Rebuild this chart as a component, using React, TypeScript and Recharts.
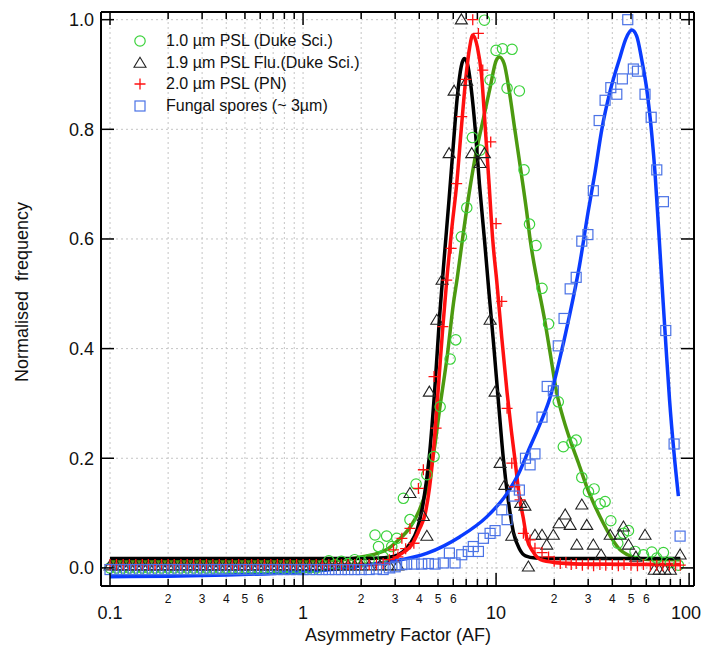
import React from 'react';
import { ComposedChart, Line, Scatter, XAxis, YAxis, CartesianGrid } from 'recharts';

// bin centres of the flat part of the histograms (shared by all four samples)
const lowAF = [
  0.1, 0.108, 0.117, 0.126, 0.136, 0.147, 0.158, 0.171, 0.185, 0.2,
  0.215, 0.233, 0.251, 0.271, 0.293, 0.316, 0.341, 0.368, 0.398, 0.43,
  0.464, 0.501, 0.541, 0.584, 0.631, 0.681, 0.736, 0.794, 0.858, 0.926,
  1.0, 1.08, 1.17, 1.26, 1.36, 1.47, 1.58, 1.71, 1.85, 2.0,
];

// 1.0 um PSL (Duke Sci.)
const greenLow = [
  0, 0, 0, 0, 0, 0, 0, 0, 0, 0,
  0, 0, 0, 0, 0, 0, 0, 0, 0, 0,
  0, 0, 0, 0, 0, 0, 0, 0, 0, 0,
  0, 0, 0, 0.004, 0.013, 0.006, 0.012, 0.008, 0.015, 0.012,
];
const greenAF = [
  2.2, 2.36, 2.46, 2.6, 2.71, 2.88, 3.06, 3.31, 3.58, 3.85,
  4.38, 4.77, 5.13, 5.78, 6.18, 6.61, 7.05, 7.54, 8.26, 8.7,
  9.31, 10.0, 10.8, 11.4, 12.1, 13.2, 13.96, 14.9, 16.1, 17.3,
  18.7, 21.0, 22.3, 24.7, 26.0, 27.8, 30.1, 32.2, 34.6, 36.7,
  39.3, 42.7, 45.7, 48.5, 52.5, 58.0, 64.1, 68.0, 73.6, 80.0, 88.0,
];
const greenFreq = [
  0.015, 0.06, 0.039, 0.02, 0.058, 0.039, 0.054, 0.127, 0.088, 0.153,
  0.17, 0.203, 0.294, 0.381, 0.416, 0.604, 0.657, 0.785, 0.762, 0.999,
  0.89, 0.944, 0.947, 0.875, 0.946, 0.87, 0.726, 0.627, 0.588, 0.51,
  0.445, 0.303, 0.221, 0.228, 0.233, 0.165, 0.139, 0.144, 0.117, 0.121,
  0.086, 0.045, 0.063, 0.068, 0.03, 0.024, 0.029, 0.018, 0.028, 0.01, 0.005,
];
const greenFitAF = [
  0.1, 0.5, 1.0, 1.5, 2.0, 2.4, 2.7, 3.1, 3.6, 4.0,
  4.4, 4.8, 5.1, 5.6, 6.0, 6.3, 6.7, 7.3, 7.9, 8.6,
  9.3, 10.0, 10.4, 11.0, 11.7, 12.5, 13.5, 14.4, 15.0, 16.4,
  17.9, 19.0, 20.6, 22.4, 24.2, 26.8, 29.5, 32.5, 36.0, 40.0,
  43.9, 48.0, 53.5, 65.0, 90.0,
];
const greenFitFreq = [
  0.012, 0.012, 0.012, 0.014, 0.02, 0.026, 0.033, 0.05, 0.075, 0.105,
  0.148, 0.22, 0.29, 0.39, 0.48, 0.53, 0.6, 0.69, 0.76, 0.82,
  0.875, 0.925, 0.932, 0.92, 0.87, 0.8, 0.72, 0.65, 0.6, 0.52,
  0.45, 0.395, 0.32, 0.27, 0.233, 0.19, 0.148, 0.113, 0.081, 0.052,
  0.033, 0.024, 0.018, 0.015, 0.015,
];

// 1.9 um PSL Flu. (Duke Sci.)
const blackLow = [
  0.004, 0.004, 0.004, 0.004, 0.004, 0.004, 0.004, 0.004, 0.004, 0.004,
  0.004, 0.004, 0.004, 0.004, 0.004, 0.004, 0.004, 0.004, 0.004, 0.004,
  0.004, 0.004, 0.004, 0.004, 0.004, 0.004, 0.004, 0.004, 0.004, 0.004,
  0.004, 0.004, 0.004, 0.004, 0.004, 0.004, 0.004, 0.004, 0.004, 0.004,
];
const blackAF = [
  2.2, 2.5, 2.8, 3.1, 3.58, 4.2, 4.38, 4.51, 4.93, 5.25,
  5.71, 6.06, 6.61, 7.05, 7.48, 8.26, 8.7, 9.31, 9.88, 10.49,
  11.1, 12.06, 13.4, 14.1, 14.7, 15.9, 17.3, 18.3, 19.8, 21.2,
  22.8, 24.2, 26.2, 27.8, 29.5, 31.9, 35.0, 39.0, 43.9, 45.7,
  48.5, 53.0, 59.1, 66.0, 70.0, 75.0, 80.0, 89.8,
];
const blackFreq = [
  0.004, 0.004, 0.004, 0.004, 0.136, 0.094, 0.058, 0.321, 0.452, 0.525,
  0.756, 0.87, 1.0, 0.888, 0.756, 0.738, 0.756, 0.452, 0.321, 0.191,
  0.151, 0.058, 0.118, 0.113, 0.002, 0.06, 0.06, 0.042, 0.06, 0.081,
  0.097, 0.078, 0.042, 0.115, 0.078, 0.042, 0.024, 0.06, 0.06, 0.075,
  0.042, 0.02, 0.06, -0.004, -0.004, -0.004, -0.004, 0.024,
];
const blackFitAF = [
  0.1, 1.0, 2.0, 2.5, 3.0, 3.3, 3.6, 3.9, 4.2, 4.5,
  4.8, 5.1, 5.4, 5.7, 6.0, 6.3, 6.6, 6.85, 7.1, 7.4,
  7.8, 8.2, 8.7, 9.2, 9.7, 10.3, 10.9, 11.6, 12.3, 13.2,
  14.2, 16.0, 20.0, 50.0, 90.0,
];
const blackFitFreq = [
  0.017, 0.017, 0.017, 0.018, 0.022, 0.03, 0.045, 0.07, 0.12, 0.2,
  0.32, 0.46, 0.57, 0.67, 0.77, 0.86, 0.915, 0.929, 0.92, 0.88,
  0.8, 0.7, 0.6, 0.5, 0.41, 0.3, 0.2, 0.12, 0.065, 0.035,
  0.022, 0.018, 0.017, 0.017, 0.017,
];

// 2.0 um PSL (PN)
const redLow = [
  0.006, 0.006, 0.006, 0.006, 0.006, 0.006, 0.006, 0.006, 0.006, 0.006,
  0.006, 0.006, 0.006, 0.006, 0.006, 0.006, 0.006, 0.006, 0.006, 0.006,
  0.006, 0.006, 0.006, 0.006, 0.006, 0.006, 0.006, 0.006, 0.006, 0.006,
  0.006, 0.006, 0.006, 0.006, 0.006, 0.006, 0.006, 0.006, 0.006, 0.006,
];
const redAF = [
  2.2, 2.4, 2.6, 2.8, 2.94, 3.1, 3.25, 3.4, 3.58, 3.75,
  3.96, 4.2, 4.77, 4.89, 5.3, 5.55, 5.85, 6.25, 6.64, 6.97,
  7.57, 8.1, 8.53, 9.38, 10.0, 10.7, 11.4, 12.06, 12.5, 13.3,
  13.85, 15.0, 15.9, 17.3, 18.7, 20.0, 21.5, 23.0, 24.5, 26.0,
  28.0, 30.0, 32.0, 34.5, 37.0, 40.0, 43.0, 46.0, 50.0, 54.0,
  58.0, 63.0, 68.0, 73.0, 79.0, 85.0, 90.0,
];
const redFreq = [
  0.006, 0.006, 0.008, 0.015, 0.033, 0.02, 0.054, 0.035, 0.072, 0.045,
  0.145, 0.179, 0.349, 0.255, 0.44, 0.525, 0.583, 0.701, 0.823, 0.891,
  1.0, 0.975, 0.908, 0.777, 0.628, 0.486, 0.291, 0.191, 0.148, 0.124,
  0.063, 0.051, 0.036, 0.028, 0.02, 0.012, 0.008, 0.01, 0.006, 0.008,
  0.005, 0.007, 0.004, 0.006, 0.005, 0.006, 0.004, 0.006, 0.005, 0.004,
  0.006, 0.004, 0.005, 0.004, 0.005, 0.004, 0.005,
];
const redFitAF = [
  0.1, 1.0, 2.0, 2.7, 3.2, 3.7, 4.0, 4.3, 4.7, 5.0,
  5.3, 5.6, 5.9, 6.25, 6.6, 7.0, 7.3, 7.57, 8.0, 8.4,
  8.8, 9.2, 9.6, 10.1, 10.7, 11.4, 12.0, 12.5, 13.2, 13.85,
  14.4, 15.5, 17.0, 20.0, 30.0, 90.0,
];
const redFitFreq = [
  0.006, 0.006, 0.006, 0.01, 0.025, 0.045, 0.07, 0.1, 0.2, 0.32,
  0.44, 0.54, 0.62, 0.7, 0.8, 0.9, 0.95, 0.972, 0.95, 0.9,
  0.8, 0.7, 0.6, 0.52, 0.42, 0.32, 0.25, 0.2, 0.13, 0.09,
  0.055, 0.03, 0.015, 0.01, 0.007, 0.006,
];

// Fungal spores (~3 um)
const blueLow = [
  -0.003, -0.003, -0.003, -0.003, -0.003, -0.003, -0.003, -0.003, -0.003, -0.003,
  -0.003, -0.003, -0.003, -0.003, -0.003, -0.003, -0.003, -0.003, -0.003, -0.003,
  -0.003, -0.003, -0.003, -0.003, -0.003, -0.003, -0.003, -0.003, -0.003, -0.003,
  -0.003, -0.003, -0.003, -0.003, -0.003, -0.003, -0.003, -0.003, -0.003, -0.003,
];
const blueAF = [
  2.2, 2.4, 2.6, 2.8, 3.0, 3.25, 3.44, 3.76, 4.12, 4.46,
  4.83, 5.33, 5.73, 6.13, 6.64, 7.18, 7.62, 8.1, 8.6, 9.31,
  9.88, 10.7, 11.4, 12.4, 13.2, 14.2, 15.0, 15.9, 17.3, 18.4,
  19.8, 21.0, 22.5, 24.2, 26.0, 27.8, 29.9, 31.9, 34.2, 36.7,
  39.3, 42.2, 45.1, 48.1, 51.4, 54.0, 59.1, 63.6, 68.0, 73.6,
  75.7, 83.6, 89.8,
];
const blueFreq = [
  -0.003, -0.002, -0.003, 0.0, 0.002, 0.006, 0.007, 0.007, 0.007, 0.008,
  0.007, 0.009, 0.027, 0.009, 0.024, 0.03, 0.039, 0.03, 0.054, 0.063,
  0.068, 0.106, 0.088, 0.131, 0.142, 0.2, 0.188, 0.208, 0.275, 0.331,
  0.323, 0.405, 0.455, 0.509, 0.53, 0.596, 0.608, 0.688, 0.816, 0.853,
  0.876, 0.864, 0.892, 1.0, 0.91, 0.906, 0.864, 0.822, 0.726, 0.668,
  0.433, 0.226, 0.058,
];
const blueFitAF = [
  0.1, 0.2, 0.4, 0.7, 1.0, 1.5, 2.0, 2.5, 3.0, 4.4,
  6.5, 9.0, 11.4, 13.0, 15.0, 17.0, 19.0, 21.0, 24.0, 27.0,
  30.0, 32.5, 35.3, 39.0, 43.9, 47.0, 50.5, 53.5, 56.9, 60.5,
  64.1, 66.6, 70.0, 73.2, 76.0, 79.2, 83.5, 88.0,
];
const blueFitFreq = [
  -0.016, -0.015, -0.013, -0.01, -0.007, -0.002, 0.004, 0.009, 0.013, 0.027,
  0.057, 0.094, 0.136, 0.17, 0.221, 0.265, 0.31, 0.37, 0.46, 0.55,
  0.65, 0.72, 0.8, 0.87, 0.932, 0.965, 0.981, 0.97, 0.926, 0.87,
  0.79, 0.72, 0.6, 0.49, 0.4, 0.306, 0.21, 0.131,
];

const xTicks = [
  0.1, 0.2, 0.3, 0.4, 0.5, 0.6, 0.7, 0.8, 0.9,
  1, 2, 3, 4, 5, 6, 7, 8, 9,
  10, 20, 30, 40, 50, 60, 70, 80, 90, 100,
];
const xMajor = [0.1, 1, 10, 100];
const yTicks = [0, 0.2, 0.4, 0.6, 0.8, 1.0];

const legendItems = [
  { name: '1.0 µm PSL (Duke Sci.)', kind: 'circle' },
  { name: '1.9 µm PSL Flu.(Duke Sci.)', kind: 'triangle' },
  { name: '2.0 µm PSL (PN)', kind: 'plus' },
  { name: 'Fungal spores (~ 3µm)', kind: 'square' },
];

const pts = (xs: number[], ys: number[]) => xs.map((x, i) => ({ x, y: ys[i] }));

const greenPts = [...pts(lowAF, greenLow), ...pts(greenAF, greenFreq)];
const blackPts = [...pts(lowAF, blackLow), ...pts(blackAF, blackFreq)];
const redPts = [...pts(lowAF, redLow), ...pts(redAF, redFreq)];
const bluePts = [...pts(lowAF, blueLow), ...pts(blueAF, blueFreq)];

const FONT = "'Liberation Sans', Arial, Helvetica, sans-serif";
const C_GREEN_PT = '#3ad23a';
const C_GREEN_LN = '#4c9a10';
const C_RED = '#ff1010';
const C_BLUE_PT = '#4a72e6';
const C_BLUE_LN = '#0a3cff';

const Marker = ({ kind, cx, cy }: { kind: string; cx: number; cy: number }) => {
  if (kind === 'circle')
    return <circle cx={cx} cy={cy} r={5.2} fill="none" stroke={C_GREEN_PT} strokeWidth={1.2} />;
  if (kind === 'triangle')
    return (
      <polygon
        points={`${cx},${cy - 5.8} ${cx - 6},${cy + 4.2} ${cx + 6},${cy + 4.2}`}
        fill="none"
        stroke="#222"
        strokeWidth={1.1}
      />
    );
  if (kind === 'plus')
    return (
      <path d={`M${cx - 5.5},${cy}H${cx + 5.5}M${cx},${cy - 5.5}V${cy + 5.5}`} stroke={C_RED} strokeWidth={1.3} />
    );
  return <rect x={cx - 5} y={cy - 5} width={10} height={10} fill="none" stroke={C_BLUE_PT} strokeWidth={1.2} />;
};

const decadeDigit = (v: number) => Math.round(v / Math.pow(10, Math.floor(Math.log10(v) + 1e-9)));

const BottomTick = (props: any) => {
  const { x, y, payload } = props;
  const v = payload.value;
  const major = xMajor.includes(v);
  const d = decadeDigit(v);
  // the last decade label sits against the right edge of the figure
  const edge = v === 100;
  return (
    <g>
      <line x1={x} x2={x} y1={y} y2={y - (major ? 13 : 7)} stroke="#000" strokeWidth={1.5} />
      {major ? (
        <text x={edge ? x + 12 : x} y={y + 33} textAnchor={edge ? 'end' : 'middle'} fontSize={18} fontFamily={FONT} fill="#111">
          {String(v)}
        </text>
      ) : d <= 6 ? (
        <text x={x} y={y + 17} textAnchor="middle" fontSize={12} fontFamily={FONT} fill="#111">
          {d}
        </text>
      ) : null}
    </g>
  );
};

const TopTick = (props: any) => {
  const { x, y, payload } = props;
  const major = xMajor.includes(payload.value);
  return <line x1={x} x2={x} y1={y} y2={y + (major ? 13 : 7)} stroke="#000" strokeWidth={1.5} />;
};

const LeftTick = (props: any) => {
  const { x, y, payload } = props;
  return (
    <g>
      <line x1={x} x2={x + 13} y1={y} y2={y} stroke="#000" strokeWidth={1.5} />
      <text x={x - 7} y={y} dy="0.35em" textAnchor="end" fontSize={18} fontFamily={FONT} fill="#111">
        {payload.value.toFixed(1)}
      </text>
    </g>
  );
};

const RightTick = (props: any) => {
  const { x, y } = props;
  return <line x1={x} x2={x - 13} y1={y} y2={y} stroke="#000" strokeWidth={1.5} />;
};

const X_DOMAIN = [0.0898, 106];
const Y_DOMAIN = [-0.033, 1.014];

export default function App() {
  return (
    <div style={{ position: 'absolute', left: 0, top: 0, width: 702, height: 647, background: '#fff', fontFamily: FONT }}>
      <ComposedChart width={702} height={647} margin={{ top: 11, right: 7, bottom: 11, left: 21 }}>
        <CartesianGrid
          xAxisId="b"
          yAxisId="l"
          stroke="#c4c4c4"
          strokeDasharray="2 3"
          verticalValues={xTicks}
          horizontalValues={yTicks}
        />
        <XAxis
          xAxisId="b"
          type="number"
          dataKey="x"
          scale="log"
          domain={X_DOMAIN}
          allowDataOverflow
          ticks={xTicks}
          interval={0}
          tick={<BottomTick />}
          tickLine={false}
          tickSize={0}
          tickMargin={0}
          height={50}
          axisLine={{ stroke: '#000', strokeWidth: 2 }}
        />
        <XAxis
          xAxisId="t"
          orientation="top"
          type="number"
          dataKey="x"
          scale="log"
          domain={X_DOMAIN}
          allowDataOverflow
          ticks={xTicks}
          interval={0}
          tick={<TopTick />}
          tickLine={false}
          tickSize={0}
          tickMargin={0}
          height={1}
          axisLine={{ stroke: '#000', strokeWidth: 2 }}
        />
        <YAxis
          yAxisId="l"
          type="number"
          dataKey="y"
          domain={Y_DOMAIN}
          allowDataOverflow
          ticks={yTicks}
          interval={0}
          tick={<LeftTick />}
          tickLine={false}
          tickSize={0}
          tickMargin={0}
          width={80}
          axisLine={{ stroke: '#000', strokeWidth: 2 }}
        />
        <YAxis
          yAxisId="r"
          orientation="right"
          type="number"
          dataKey="y"
          domain={Y_DOMAIN}
          allowDataOverflow
          ticks={yTicks}
          interval={0}
          tick={<RightTick />}
          tickLine={false}
          tickSize={0}
          tickMargin={0}
          width={1}
          axisLine={{ stroke: '#000', strokeWidth: 2 }}
        />

        <Scatter xAxisId="b" yAxisId="l" data={greenPts} dataKey="y" isAnimationActive={false}
          shape={(p: any) => <Marker kind="circle" cx={p.cx} cy={p.cy} />} />
        <Scatter xAxisId="b" yAxisId="l" data={blackPts} dataKey="y" isAnimationActive={false}
          shape={(p: any) => <Marker kind="triangle" cx={p.cx} cy={p.cy} />} />
        <Scatter xAxisId="b" yAxisId="l" data={redPts} dataKey="y" isAnimationActive={false}
          shape={(p: any) => <Marker kind="plus" cx={p.cx} cy={p.cy} />} />
        <Scatter xAxisId="b" yAxisId="l" data={bluePts} dataKey="y" isAnimationActive={false}
          shape={(p: any) => <Marker kind="square" cx={p.cx} cy={p.cy} />} />

        <Line xAxisId="b" yAxisId="l" data={pts(greenFitAF, greenFitFreq)} dataKey="y" type="monotone"
          stroke={C_GREEN_LN} strokeWidth={3.5} dot={false} isAnimationActive={false} />
        <Line xAxisId="b" yAxisId="l" data={pts(blackFitAF, blackFitFreq)} dataKey="y" type="monotone"
          stroke="#000" strokeWidth={3.5} dot={false} isAnimationActive={false} />
        <Line xAxisId="b" yAxisId="l" data={pts(redFitAF, redFitFreq)} dataKey="y" type="monotone"
          stroke={C_RED} strokeWidth={3.5} dot={false} isAnimationActive={false} />
        <Line xAxisId="b" yAxisId="l" data={pts(blueFitAF, blueFitFreq)} dataKey="y" type="monotone"
          stroke={C_BLUE_LN} strokeWidth={3.5} dot={false} isAnimationActive={false} />
      </ComposedChart>

      {/* legend */}
      {legendItems.map((it, i) => {
        const cy = 41 + i * 21.7;
        return (
          <React.Fragment key={it.name}>
            <svg width={20} height={20} style={{ position: 'absolute', left: 129.5, top: cy - 10 }}>
              <Marker kind={it.kind} cx={10} cy={10} />
            </svg>
            <div style={{ position: 'absolute', left: 166, top: cy - 10, fontSize: 16, lineHeight: '20px', color: '#111', whiteSpace: 'nowrap' }}>
              {it.name}
            </div>
          </React.Fragment>
        );
      })}

      {/* axis titles */}
      <div style={{ position: 'absolute', left: 398, top: 635, transform: 'translate(-50%, -50%)', fontSize: 18, color: '#111', whiteSpace: 'nowrap' }}>
        Asymmetry Factor (AF)
      </div>
      <div style={{ position: 'absolute', left: 22, top: 292, transform: 'translate(-50%, -50%) rotate(-90deg)', fontSize: 18, color: '#111', whiteSpace: 'pre' }}>
        {'Normalised  frequency'}
      </div>
    </div>
  );
}
